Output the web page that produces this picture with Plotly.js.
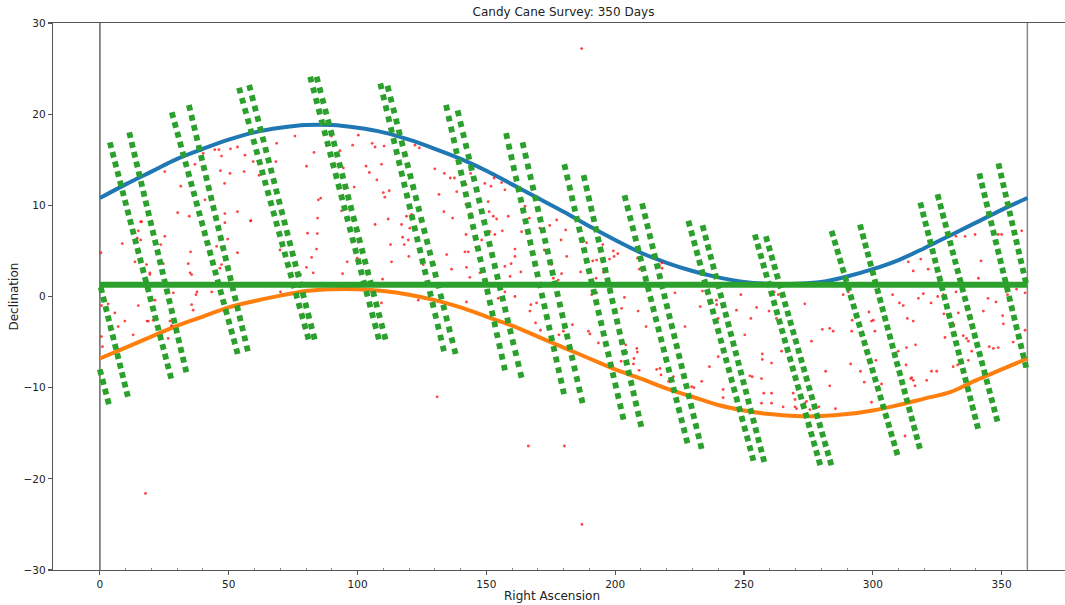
<!DOCTYPE html>
<html>
<head>
<meta charset="utf-8">
<script src="https://cdn.plot.ly/plotly-3.0.1.min.js"></script>
<style>
  html, body { margin: 0; padding: 0; background: #ffffff; }
  #chart { width: 1065px; height: 605px; }
</style>
</head>
<body>
<div id="chart"></div>
<script>
// ---------------- data ----------------
const chartTitle = 'Candy Cane Survey: 350 Days';
const xLabel = 'Right Ascension';
const yLabel = 'Declination';

const xTickVals = [0, 50, 100, 150, 200, 250, 300, 350];
const yTickVals = [-30, -20, -10, 0, 10, 20, 30];
const minorTickRA = [10, 20, 30, 40, 60, 70, 80, 90, 110, 120, 130, 140, 160, 170, 180, 190,
                     210, 220, 230, 240, 260, 270, 280, 290, 310, 320, 330, 340, 360];

// upper (blue) and lower (orange) boundary curves, read every 10 degrees
const curveRA = [0, 10, 20, 30, 40, 50, 60, 70, 80, 90, 100, 110, 120, 130, 140, 150, 160, 170, 180,
                 190, 200, 210, 220, 230, 240, 250, 260, 270, 280, 290, 300, 310, 320, 330, 340, 350, 360];
const upperDec = [10.8, 12.3, 13.7, 15.1, 16.2, 17.2, 18.0, 18.5, 18.8, 18.8, 18.5, 18.0, 17.2, 16.2, 15.1,
                  13.8, 12.3, 10.8, 9.3, 7.7, 6.2, 4.8, 3.7, 2.8, 2.1, 1.6, 1.4, 1.4, 1.6, 2.2, 3.0,
                  4.0, 5.3, 6.7, 8.1, 9.5, 10.8];
const lowerDec = [-6.8, -5.6, -4.4, -3.2, -2.2, -1.2, -0.5, 0.1, 0.6, 0.8, 0.8, 0.6, 0.2, -0.4, -1.2,
                  -2.2, -3.2, -4.4, -5.6, -6.8, -8.0, -9.0, -10.1, -11.0, -11.9, -12.5, -12.9, -13.1, -13.1,
                  -12.9, -12.5, -11.9, -11.2, -10.5, -9.2, -8.0, -6.8];

// green horizontal track
const trackRA = [0, 360];
const trackDec = [1.3, 1.3];

// boundary lines of the survey region
const boundaryRA = [0, 360];

// green pointing strokes: first and last square centre of each stroke, number of squares
const strokeTopRA     = [4.15, 11.65, 28.2, 34.8, 54.3, 58.2, 81.9, 84.4, 109.1, 111.9, 134.6, 139.1,
                         157.9, 164.3, 180.5, 188.0, 203.9, 210.7, 228.7, 234.2, 254.5, 258.8, 284.3, 295.3,
                         318.7, 325.4, 341.6, 0.25, 349.0, 0.6];
const strokeTopDec    = [16.6, 17.7, 19.9, 20.7, 22.6, 22.9, 23.8, 23.8, 23.05, 22.8, 20.7, 20.1,
                         17.6, 16.6, 14.2, 13.0, 10.8, 9.9, 8.0, 7.5, 6.5, 6.3, 6.9, 7.6,
                         10.0, 10.9, 13.2, -8.3, 14.3, 0.7];
const strokeBottomRA  = [27.4, 33.3, 53.2, 57.2, 80.7, 83.1, 108.0, 110.6, 133.3, 137.8, 157.0, 163.4,
                         179.9, 187.1, 203.0, 209.9, 227.8, 233.3, 253.4, 257.6, 279.3, 283.6, 309.3, 318.0,
                         340.6, 348.1, 359.3, 3.2, 359.2, 10.6];
const strokeBottomDec = [-8.7, -8.0, -6.0, -5.7, -4.4, -4.4, -4.4, -4.4, -5.7, -6.0, -7.8, -8.6,
                         -10.4, -11.4, -13.2, -14.0, -15.8, -16.4, -17.7, -17.85, -18.2, -18.2, -17.1, -16.4,
                         -14.2, -13.4, -7.5, -11.5, 1.8, -10.7];
const strokeSquares   = [25, 25, 25, 25, 25, 25, 25, 25, 25, 25, 25, 25,
                         25, 25, 25, 25, 25, 25, 25, 25, 25, 25, 25, 25,
                         25, 25, 21, 4, 13, 12];

// red detections [RA, Dec]
const surveyDetections = [
  [0.4,4.8],[8.7,5.8],[14.9,7.2],[14.5,6.4],[15.8,6.2],[13.6,3.8],[15.8,8.2],[18.1,3.5],[19.4,2.4],[23.6,5.7],
  [25.2,6.6],[24.6,3.6],[25.2,13.7],[30.2,9.2],[34.7,8.8],[31.4,12.1],[35.2,4.9],[34.3,3.6],[35,2.6],[35.6,2.4],
  [36.9,14.5],[40.8,10.6],[37.3,0.2],[37.7,0.5],[35.6,-0.9],[36.2,-1.5],[43.4,0.5],[40.1,15.7],[44.6,16.1],[46.2,16.1],
  [47.2,15.4],[50.5,13.5],[48.4,12.4],[46.8,13.8],[50.7,16.2],[53.4,16.4],[56.3,15.5],[56,13.7],[48.5,9.1],[48.5,8.1],
  [49.6,6.3],[53.4,9.3],[58.5,8.3],[47.2,3.5],[46.6,3.1],[45.3,5.5],[53.4,4.8],[0.6,-1.0],[3.2,-0.8],[5.8,-1.8],
  [7.1,-3.3],[9.7,-2.7],[12.9,-4.2],[14.9,-1.0],[18.8,-2.7],[20.7,-2.6],[21.4,-0.4],[27.2,-2.7],[27.8,-3.2],[28.5,0.4],
  [26.5,-4.6],[1.0,-5.5],[0.6,-4.4],[19.4,2.6],[16.2,8.2],[22.1,-2.4],[18.3,-2.7],
  [58.6,8.3],[68.6,16.8],[75.7,17.6],[83.1,15.8],[80.2,14.3],[84.8,10.6],[85.7,10.8],[84.5,8.6],[80.6,6.95],[84.4,6.9],
  [84.1,5.2],[82.2,4.3],[80.2,3.2],[82.8,2.6],[68.3,14.8],[61.8,13.3],[59.5,14.8],[69.9,5.1],[77.9,2.4],[70.1,0.5],
  [89.9,17.6],[93.2,16.0],[94.5,14.1],[93.8,9.4],[98.7,12],[96,3.8],[94.2,2.5],[100.3,17.7],[98.1,16.6],[99.9,4.2],
  [103.3,14.3],[104.6,13.6],[105.7,16.8],[106.8,16.4],[107.5,12.8],[110.3,16.5],[109.3,14.5],[110,11.4],[112.3,11.6],[110.6,10.9],
  [106.8,7.9],[111.9,8.5],[112.8,5.7],[113.2,3.8],[109.7,1.9],[109.3,-0.7],[117.5,6.5],[118.1,5.7],[119,8.8],[117.1,7.9],
  [122.3,16.6],[124,16.3],[130,14],[133.7,13.5],[136,13],[137.6,13],[138.5,11.5],[131.6,11.2],[133.5,9.3],[136.9,8.6],
  [121,9],[120.3,7.5],[119.7,6.2],[119.9,4.4],[125.5,3.5],[130.3,2.4],[134.6,4.6],[136.5,3],[142.1,12.3],[143.9,13.5],
  [142.1,10.1],[143.9,9.1],[149.4,12.4],[151.8,12.1],[153,13],[155.9,12.5],[157.2,11.7],[150.7,10.4],[151.1,9.3],[152.7,8.8],
  [154,8.5],[158.5,8.8],[151.4,7.1],[153.3,6.8],[156.2,7.2],[148.2,6.2],[146,5.4],[142.1,6.8],[141.7,4.9],[143,4.9],
  [142.3,3.2],[143.6,2.1],[147.5,2.6],[157.2,3.3],[159.6,3.6],[159.2,2.2],[163.4,2.7],[161.1,4.4],[161.1,5.2],[163.7,7.1],
  [166.7,8.6],[165,9.9],[170.8,7.5],[174.6,7.8],[177.3,8.4],[179,6.2],[172.5,5.1],[175.3,3.5],[176,2],[177.9,1.8],
  [157.2,0.5],[161.1,0],[154.6,-0.2],[142.3,-0.6],[123.6,-0.4],[167.3,-0.9],[166.9,-1.6],[169.1,-2.9],[171,-3.7],[178.2,-4.2],
  [179.9,-3.8],[169.5,-0.7],[130.9,-11],[166.3,-16.4],[180.3,-16.4],
  [180.8,7.3],[181.2,4.4],[179.2,2.5],[187,6.4],[187.4,6.0],[188.9,5.9],[191.3,3.9],[192.8,4.0],[195.2,5.7],[197.8,4.1],
  [199.3,5],[199.6,4.4],[201,4.7],[192.6,2.0],[186.6,2.7],[195.4,2.7],[190.9,0.2],[192.8,0.4],[203.6,-0.1],[202.5,-1.3],
  [208.9,-1.6],[208.7,4.2],[209.4,3.0],[217.2,3.4],[218.1,3.7],[218.2,3.1],[223.2,0.4],[233.9,0.6],[233,-1.1],[239.4,-0.9],
  [240,-2.4],[179.6,-2.0],[183.4,-3.1],[189.6,-3.8],[190.2,-4.1],[193.5,-5.1],[204.1,-5.3],[204.5,-6.1],[208.4,-5.7],[207.3,-6.8],
  [207.1,-7.4],[208.6,-6.1],[202.3,-7.1],[209.3,-8.1],[212,-3.3],[216.1,-8.0],[217.4,-7.9],[217.8,-8.6],[227.1,-3.3],[229.7,-9.9],
  [230.6,-10],[233.6,-9.3],[236.6,-7.7],[240,-6.6],[220.7,-9.3],[222.6,-8.8],
  [248.8,0.2],[239.3,-0.4],[247.1,-1.5],[252.7,-2.4],[254.9,-1.2],[259.7,-1.6],[261.7,0.5],[263.3,0.2],[273.6,-0.8],[250.3,-4.2],
  [257.1,-6.3],[257.1,-6.9],[260.7,-7.3],[262.6,-2.4],[264.6,-6.0],[276.2,-4.9],[280.4,-3.6],[283.3,-3.5],[284.6,-3.8],[281.7,-8.2],
  [283.3,-9.8],[291.4,-7.4],[291.8,-3.8],[295.2,-8.2],[298.5,-1.7],[288.5,0.2],[290.5,0.5],[292,-2.6],[299.5,-2.7],[296.7,-9.4],
  [299.5,-11.6],[241.9,-10.2],[241.9,-11.1],[252.3,-8.7],[253.2,-8.8],[256.8,-9.0],[257.7,-10.6],[260.7,-10.6],[256.8,-11.7],[265.2,-12.1],
  [269.8,-12.1],[269.1,-10.6],[269.8,-11.3],[273.6,-11.7],[285.5,-12.3],[260.7,-11.7],[270.4,-12.3],[274.3,-11.5],[275.6,-12.4],[279.1,-12.1],
  [307.7,0.2],[310.3,-0.7],[311.8,-1.0],[313.4,-2.4],[315.7,-2.7],[300.2,-2.6],[300.8,-3.8],[309.9,-6.0],[313.1,-5.6],[316.6,-5.3],
  [312.9,-7.5],[315.1,-8.9],[315.7,-9.2],[314.7,-9.0],[316.4,-9.8],[322.8,-8.2],[324.8,-8.2],[320.9,-9.2],[301.2,-7.0],[303.4,-9.6],
  [312.5,-15.3],[313.8,3.8],[315.7,2.8],[318.6,4.1],[321.5,3.0],[317.7,-0.2],[319.6,0.3],[322.6,-0.7],[325.2,0],[327.6,-1.9],
  [328,-4.5],[332.3,0.5],[333.2,-1.8],[331.5,-3.1],[335.1,-4.3],[336.4,-4.6],[337.1,-4.9],[331.2,-7.7],[332.9,-7.5],[337.1,-7.0],
  [332.3,6.6],[335.8,6.6],[339.7,6.8],[341,2.0],[342,3.9],[344.7,-0.2],[347.8,-0.6],[350.4,-2.1],[348.7,6.8],[350,6.8],
  [342.9,-1.6],[345.2,-5.5],[346.8,-5.7],[348.7,-5.6],[350.7,-3.0],[354.5,-5.0],[357.8,7.2],[355.8,0.8],[359.1,0.4],[359.1,-3.7],
  [352.3,0.2],[327.4,0.2],[338.4,-6.0],
  [187,27.2],[187.1,-25],[17.7,-21.6]
];

// ---------------- layout geometry ----------------
const W = 1065, H = 605;
const M = { l: 53, r: 0, t: 23, b: 35 };
const xRange = [-18.2, 374.6];
const yRange = [-30, 30];
const kx = (W - M.l - M.r) / (xRange[1] - xRange[0]);
const ky = (H - M.t - M.b) / (yRange[1] - yRange[0]);

const BLUE = '#1f77b4', ORANGE = '#ff7f0e', GREEN = '#2ca02c', RED = '#ff0000';
const SQ = 5.8; // square size of pointing markers in px

const traces = [];

// boundary curves
traces.push({ x: curveRA, y: upperDec, mode: 'lines', line: { color: BLUE, width: 4, shape: 'spline', smoothing: 1 },
  hoverinfo: 'skip', showlegend: false });
traces.push({ x: curveRA, y: lowerDec, mode: 'lines', line: { color: ORANGE, width: 4, shape: 'spline', smoothing: 1 },
  hoverinfo: 'skip', showlegend: false });

// detections
traces.push({ x: surveyDetections.map(d => d[0]), y: surveyDetections.map(d => d[1]), mode: 'markers',
  marker: { color: 'rgba(255,20,20,0.8)', size: 2.8, symbol: 'circle', line: { width: 0 } },
  hoverinfo: 'skip', showlegend: false });

// horizontal track
traces.push({ x: trackRA, y: trackDec, mode: 'lines', line: { color: GREEN, width: 6 }, hoverinfo: 'skip', showlegend: false });

// strokes of squares (drawn as a dashed thick line; one dash per square)
for (let i = 0; i < strokeTopRA.length; i++) {
  const ra0 = strokeTopRA[i], de0 = strokeTopDec[i], ra1 = strokeBottomRA[i], de1 = strokeBottomDec[i];
  const n = strokeSquares[i];
  const dx = (ra1 - ra0) * kx, dy = (de1 - de0) * ky;
  const L = Math.hypot(dx, dy);
  const p = L / (n - 1);
  const f = (SQ / 2) / L;
  traces.push({
    x: [ra0 - (ra1 - ra0) * f, ra1 + (ra1 - ra0) * f],
    y: [de0 - (de1 - de0) * f, de1 + (de1 - de0) * f],
    mode: 'lines',
    line: { color: GREEN, width: SQ, dash: SQ.toFixed(2) + 'px,' + Math.max(p - SQ, 0.5).toFixed(2) + 'px' },
    hoverinfo: 'skip', showlegend: false
  });
}

const FONT = 'DejaVu Sans, sans-serif';

const layout = {
  width: W, height: H,
  margin: M,
  paper_bgcolor: '#ffffff', plot_bgcolor: '#ffffff',
  showlegend: false,
  title: { text: chartTitle, font: { family: FONT, size: 12, color: '#222' },
           x: 563.5 / W, xref: 'container', xanchor: 'center', y: 1 - 12 / H, yref: 'container', yanchor: 'middle' },
  xaxis: {
    range: xRange, showgrid: false, zeroline: false,
    showline: true, linecolor: '#555', linewidth: 1.3, mirror: true,
    tickmode: 'array', tickvals: xTickVals, ticktext: xTickVals.map(String),
    ticks: 'outside', ticklen: 4, tickwidth: 1.1, tickcolor: '#555',
    tickfont: { family: FONT, size: 10.5, color: '#222' },
    minor: { tickmode: 'array', tickvals: minorTickRA, ticks: 'inside', ticklen: 2, tickwidth: 1, tickcolor: '#888' }
  },
  yaxis: {
    range: yRange, showgrid: false, zeroline: false,
    showline: true, linecolor: '#555', linewidth: 1.3, mirror: false,
    tickmode: 'array', tickvals: yTickVals, ticktext: yTickVals.map(v => v < 0 ? '\u2212' + Math.abs(v) : String(v)),
    ticks: 'outside', ticklen: 4, tickwidth: 1.1, tickcolor: '#555',
    tickfont: { family: FONT, size: 10.5, color: '#222' }
  },
  shapes: boundaryRA.map((ra, i) => ({
    type: 'line', xref: 'x', yref: 'paper', x0: ra, x1: ra, y0: 0, y1: 1,
    line: { color: i === 0 ? '#666' : '#888', width: 1.5 }, layer: 'below'
  })),
  annotations: [
    { text: xLabel, xref: 'paper', yref: 'paper', x: (552 - M.l) / (W - M.l - M.r), y: -26 / (H - M.t - M.b),
      xanchor: 'center', yanchor: 'middle', showarrow: false, font: { family: FONT, size: 12, color: '#222' } },
    { text: yLabel, xref: 'paper', yref: 'paper', x: -40 / (W - M.l - M.r), y: 0.5, textangle: -90,
      xanchor: 'center', yanchor: 'middle', showarrow: false, font: { family: FONT, size: 12, color: '#222' } }
  ]
};

Plotly.newPlot('chart', traces, layout, { staticPlot: true, displayModeBar: false });
</script>
</body>
</html>
